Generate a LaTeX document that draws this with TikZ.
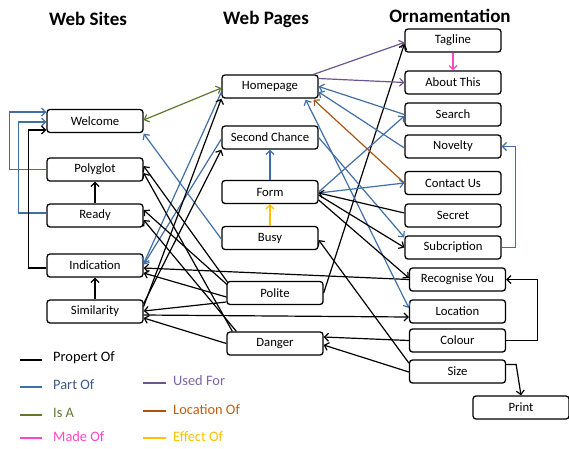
\documentclass[tikz,border=0pt]{standalone}
\usepackage{fontspec}
\setmainfont{Carlito}
\usetikzlibrary{arrows.meta}

\definecolor{partblue}{RGB}{65,110,165}
\definecolor{isagreen}{RGB}{94,120,48}
\definecolor{madepink}{RGB}{255,70,200}
\definecolor{usedpurple}{RGB}{110,85,145}
\definecolor{locbrown}{RGB}{170,85,20}
\definecolor{effyellow}{RGB}{255,192,0}
\definecolor{parttext}{RGB}{60,90,135}
\definecolor{usedtext}{RGB}{125,100,165}
\definecolor{loctext}{RGB}{190,95,20}

\begin{document}
\begin{tikzpicture}[x=1pt,y=-1pt,
  box/.style={draw, rounded corners=3pt, line width=1.3pt, fill=white,
    minimum width=96pt, minimum height=23pt, inner sep=0pt,
    font=\fontsize{12.7}{14}\selectfont},
  heading/.style={font=\fontsize{19}{22}\selectfont\bfseries},
  legendtext/.style={anchor=west, inner sep=0pt, font=\fontsize{14.4}{16}\selectfont},
  link/.style={line width=1.2pt, -{Straight Barb[length=4pt,width=8pt]}},
  biglink/.style={line width=1.2pt, {Straight Barb[length=4pt,width=8pt]}-{Straight Barb[length=4pt,width=8pt]}},
  propof/.style={link, black},
  partof/.style={link, partblue},
  isa/.style={biglink, isagreen},
  madeof/.style={link, madepink},
  usedfor/.style={link, usedpurple},
  locof/.style={link, locbrown},
  effof/.style={link, effyellow},
]
\useasboundingbox (0,0) rectangle (569,448);

% column headings
\node[heading] (hsites) at (88,19) {Web Sites};
\node[heading] (hpages) at (266,19) {Web Pages};
\node[heading] (horn) at (450,16) {Ornamentation};

% web sites
\node[box] (welcome) at (95,121) {Welcome};
\node[box] (polyglot) at (95,169.5) {Polyglot};
\node[box] (ready) at (95,215.5) {Ready};
\node[box] (indication) at (95,265.5) {Indication};
\node[box] (similarity) at (95,311.5) {Similarity};

% web pages
\node[box] (homepage) at (270,86.5) {Homepage};
\node[box] (second) at (270,137.5) {Second Chance};
\node[box] (form) at (270,192) {Form};
\node[box] (busy) at (270,238) {Busy};
\node[box] (polite) at (275,293) {Polite};
\node[box] (danger) at (275,343.5) {Danger};

% ornamentation
\node[box] (tagline) at (453,40.5) {Tagline};
\node[box] (about) at (453,82.5) {About This};
\node[box] (search) at (453,114.5) {Search};
\node[box] (novelty) at (453,146.5) {Novelty};
\node[box] (contact) at (453,183) {Contact Us};
\node[box] (secret) at (453,215.5) {Secret};
\node[box] (subcr) at (453,247.5) {Subcription};
\node[box] (recog) at (457.5,279.5) {Recognise You};
\node[box] (location) at (457.5,311.5) {Location};
\node[box] (colour) at (457.5,340.5) {Colour};
\node[box] (size) at (457.5,371.5) {Size};
\node[box] (print) at (521,407.5) {Print};

% links inside the web sites column
\draw[partof] (polyglot.west) -- ++(-37,0) |- ([yshift=9pt]welcome.west);
\draw[partof] ([yshift=2.5pt]ready.west) -- ++(-28,0) |- ([yshift=-1pt]welcome.west);
\draw[propof] ([yshift=-2.5pt]indication.west) -- ++(-18,0) |- ([yshift=-9pt]welcome.west);
\draw[propof] (ready.north) -- (polyglot.south);
\draw[propof] (similarity.north) -- (indication.south);

% links inside the web pages column
\draw[effof] (busy.north) -- (form.south);
\draw[partof] (form.north) -- (second.south);

% links inside the ornamentation column
\draw[madeof] (tagline.south) -- (about.north);
\draw[partof] (subcr.east) -- ++(14,0) |- (novelty.east);
\draw[propof] (colour.east) -- ++(31,0) |- (recog.east);
\draw[propof] ([yshift=7pt]size.east) -- ++(10,0) -- (print.north);

% web pages <-> web sites
\draw[isa] ([yshift=1pt]welcome.east) -- ([yshift=-1.5pt]homepage.west);
\draw[partof] ([yshift=-1pt]busy.west) -- ([yshift=-0.5pt]welcome.south east);
\draw[partof] ([yshift=-5.5pt]homepage.west) -- ([yshift=2pt]indication.east);
\draw[partof] ([yshift=-1.5pt]second.west) -- ([yshift=1pt]indication.east);
\draw[propof] ([yshift=5pt]similarity.east) -- (homepage.south west);
\draw[propof] ([yshift=8pt]similarity.east) -- (second.south west);
\draw[propof] ([xshift=1pt,yshift=-1pt]polite.north west) -- ([yshift=3.5pt]polyglot.east);
\draw[propof] ([xshift=1pt,yshift=-4pt]polite.north west) -- ([yshift=5.5pt]ready.east);
\draw[propof] ([xshift=6pt]danger.north west) -- ([yshift=-3.5pt]polyglot.east);
\draw[propof] ([xshift=10pt]danger.north west) -- ([yshift=-4.5pt]ready.east);
\draw[propof] ([yshift=-4pt]polite.west) -- ([yshift=-7.5pt]indication.east);
\draw[propof] ([yshift=-9pt]polite.west) -- ([yshift=0.5pt]similarity.east);
\draw[propof] (danger.west) -- ([yshift=-6.5pt]similarity.east);

% ornamentation -> web sites
\draw[propof] (recog.west) -- ([yshift=-2.5pt]indication.east);
\draw[propof] ([yshift=-3.5pt]similarity.east) -- ([yshift=-5.5pt]location.west);

% ornamentation <-> web pages
\draw[usedfor] ([xshift=-5pt]homepage.north east) -- ([yshift=-2pt]tagline.west);
\draw[propof] (polite.east) -- ([yshift=-3.5pt]tagline.west);
\draw[usedfor] ([yshift=8pt]homepage.east) -- (about.west);
\draw[partof] (search.west) -- (homepage.east);
\draw[partof] ([yshift=-1.5pt]novelty.west) -- ([yshift=-5.5pt]homepage.east);
\draw[locof] (contact.west) -- ([xshift=-5pt,yshift=-1pt]homepage.south east);
\draw[biglink, partblue] ([yshift=3.5pt]location.west) -- ([xshift=-13pt,yshift=-1pt]homepage.south east);
\draw[partof] (second.east) -- ([yshift=-2pt]subcr.north west);
\draw[partof] (form.east) -- ([yshift=-1.5pt]search.west);
\draw[partof] ([yshift=-1pt]form.east) -- (contact.west);
\draw[propof] ([yshift=2.5pt]secret.west) -- ([yshift=-1pt]form.east);
\draw[propof] ([yshift=-3pt]form.east) -- (subcr.west);
\draw[propof] ([yshift=-8pt]form.east) -- ([yshift=1.5pt]recog.west);
\draw[propof] ([yshift=8.5pt]size.west) -- ([yshift=-2pt]busy.east);
\draw[propof] (colour.west) -- ([yshift=6.5pt]danger.east);
\draw[propof] ([yshift=-0.5pt]size.west) -- ([yshift=-1.5pt]danger.east);

% legend
\draw[black, line width=1.3pt] (20,360) coordinate (l1a) -- (42,360) coordinate (l1b);
\node[legendtext] (t1) at (53,358) {Propert Of};
\draw[partblue, line width=1.3pt] (20,387) coordinate (l2a) -- (42,387) coordinate (l2b);
\node[legendtext, text=parttext] (t2) at (53,385) {Part Of};
\draw[isagreen, line width=1.3pt] (20,415) coordinate (l3a) -- (42,415) coordinate (l3b);
\node[legendtext, text=isagreen] (t3) at (53,413) {Is A};
\draw[madepink, line width=1.3pt] (20,438) coordinate (l4a) -- (42,438) coordinate (l4b);
\node[legendtext, text=madepink] (t4) at (53,437) {Made Of};
\draw[usedpurple, line width=1.3pt] (143,383) coordinate (l5a) -- (166,383) coordinate (l5b);
\node[legendtext, text=usedtext] (t5) at (173,381) {Used For};
\draw[locbrown, line width=1.3pt] (143,411) coordinate (l6a) -- (166,411) coordinate (l6b);
\node[legendtext, text=loctext] (t6) at (173,410) {Location Of};
\draw[effyellow, line width=1.3pt] (143,438) coordinate (l7a) -- (166,438) coordinate (l7b);
\node[legendtext, text=effyellow] (t7) at (173,437) {Effect Of};
\end{tikzpicture}
\end{document}
